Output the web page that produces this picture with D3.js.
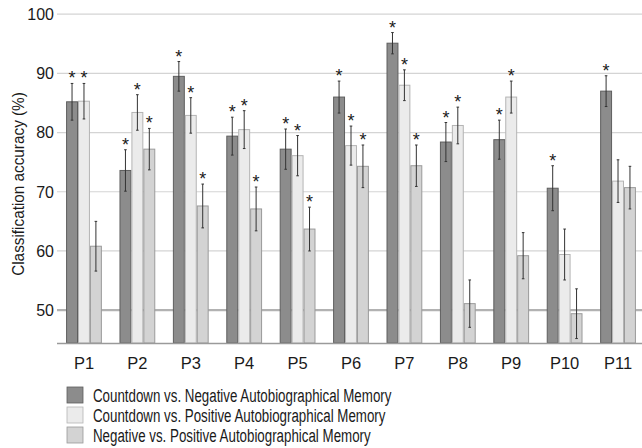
<!DOCTYPE html>
<html>
<head>
<meta charset="utf-8">
<script src="https://cdnjs.cloudflare.com/ajax/libs/d3/7.8.5/d3.min.js"></script>
<style>
  body{margin:0;background:#fff;}
  text{font-family:"Liberation Sans",Arial,sans-serif;fill:#1a1a1a;}
</style>
</head>
<body>
<div id="content"></div>
<script>
(function(){

      //////////////////////////////////////////////////////////////
      //////////////////////// data /////////////////////
      //////////////////////////////////////////////////////////////
      var participants=["P1","P2","P3","P4","P5","P6","P7","P8","P9","P10","P11"];

      var seriesNames=[
        "Countdown vs. Negative Autobiographical Memory",
        "Countdown vs. Positive Autobiographical Memory",
        "Negative vs. Positive Autobiographical Memory"
      ];

      var countNeg=[85.2,73.6,89.5,79.4,77.2,86.0,95.1,78.4,78.8,70.6,87.0];
      var countPos=[85.3,83.4,82.9,80.5,76.1,77.8,88.0,81.2,86.0,59.4,71.8];
      var negPos=[60.8,77.2,67.6,67.1,63.7,74.3,74.4,51.1,59.2,49.4,70.7];

      var errCountNeg=[3.1,3.5,2.5,3.2,3.4,2.7,1.8,3.3,3.3,3.8,2.6];
      var errCountPos=[3.0,3.0,3.0,3.2,3.4,3.3,2.6,3.1,2.7,4.3,3.6];
      var errNegPos=[4.2,3.5,3.7,3.7,3.7,3.6,3.5,4.0,3.9,4.2,3.6];

      // 1 = significant (star above the bar)
      var sigCountNeg=[1,1,1,1,1,1,1,1,1,1,1];
      var sigCountPos=[1,1,1,1,1,1,1,1,1,0,0];
      var sigNegPos=[0,1,1,1,1,1,1,0,0,0,0];

      var yTicks=[50,60,70,80,90,100];

      var fills=["#8c8c8c","#ebebeb","#d3d3d3"],
          strokes=["#5e5e5e","#b4b4b4","#9a9a9a"];

      var series=[
        {name:seriesNames[0],values:countNeg,errs:errCountNeg,sig:sigCountNeg},
        {name:seriesNames[1],values:countPos,errs:errCountPos,sig:sigCountPos},
        {name:seriesNames[2],values:negPos,errs:errNegPos,sig:sigNegPos}
      ];

      var bars=[];
      participants.forEach(function(p,i){
        series.forEach(function(s,j){
          bars.push({p:p,k:j,v:s.values[i],e:s.errs[i],sig:s.sig[i]});
        });
      });

      // squeeze text horizontally (the original uses a narrow face)
      function condense(sel,k){
        sel.each(function(){
          var w=this.getComputedTextLength();
          d3.select(this)
            .attr("textLength",w*k)
            .attr("lengthAdjust","spacingAndGlyphs");
        });
      }

      //////////////////////////////////////////////////////////////
      //////////////////////// chart /////////////////////
      //////////////////////////////////////////////////////////////
      var width=642,
          height=448;

      var svg=d3.select("#content")
          .append("svg")
          .attr("width",width)
          .attr("height",height);

      var x=d3.scaleBand()
          .domain(participants)
          .range([57,645])
          .paddingInner(0.33)
          .paddingOuter(0.17);

      var xs=d3.scaleBand()
          .domain([0,1,2])
          .range([0,x.bandwidth()]);

      var y=d3.scaleLinear()
          .domain([44.45,100])
          .range([343,14.2]);

      // gridlines
      svg.append("g")
          .selectAll("line")
          .data(yTicks)
        .enter().append("line")
          .attr("x1",57)
          .attr("x2",width)
          .attr("y1",function(d){ return y(d); })
          .attr("y2",function(d){ return y(d); })
          .style("stroke",function(d){ return d==50 ? "#b2b2b2" : "#d4d4d4"; })
          .style("stroke-width",function(d){ return d==50 ? 2.2 : 1.2; });

      // y tick labels
      svg.append("g")
          .selectAll("text")
          .data(yTicks)
        .enter().append("text")
          .attr("x",54)
          .attr("y",function(d){ return y(d)+5.8; })
          .attr("text-anchor","end")
          .style("font-size","16px")
          .text(function(d){ return d; });

      var ylab=svg.append("text")
          .attr("transform","translate(24,184) rotate(-90)")
          .attr("text-anchor","middle")
          .style("font-size","17px")
          .text("Classification accuracy (%)");
      condense(ylab,0.9);

      // bars
      var g=svg.append("g");

      g.selectAll("rect")
          .data(bars)
        .enter().append("rect")
          .attr("x",function(d){ return x(d.p)+xs(d.k)+0.5; })
          .attr("width",xs.bandwidth()-1)
          .attr("y",function(d){ return y(d.v); })
          .attr("height",function(d){ return y.range()[0]-y(d.v); })
          .style("fill",function(d){ return fills[d.k]; })
          .style("stroke",function(d){ return strokes[d.k]; })
          .style("stroke-width",1);

      // error bars
      var eb=g.selectAll(".err")
          .data(bars)
        .enter().append("g")
          .attr("class","err")
          .attr("transform",function(d){ return "translate("+(x(d.p)+xs(d.k)+xs.bandwidth()/2)+",0)"; })
          .style("stroke","#333")
          .style("stroke-width",1);

      eb.append("line")
          .attr("y1",function(d){ return y(d.v+d.e); })
          .attr("y2",function(d){ return y(d.v-d.e); });
      eb.append("line")
          .attr("x1",-1.3).attr("x2",1.3)
          .attr("y1",function(d){ return y(d.v+d.e); })
          .attr("y2",function(d){ return y(d.v+d.e); });
      eb.append("line")
          .attr("x1",-1.3).attr("x2",1.3)
          .attr("y1",function(d){ return y(d.v-d.e); })
          .attr("y2",function(d){ return y(d.v-d.e); });

      // significance stars
      g.selectAll(".star")
          .data(bars.filter(function(d){ return d.sig; }))
        .enter().append("text")
          .attr("class","star")
          .attr("x",function(d){ return x(d.p)+xs(d.k)+xs.bandwidth()/2; })
          .attr("y",function(d){ return y(d.v+d.e)+1; })
          .attr("text-anchor","middle")
          .style("font-size","18px")
          .text("*");

      // baseline
      svg.append("line")
          .attr("x1",57)
          .attr("x2",width)
          .attr("y1",343.5)
          .attr("y2",343.5)
          .style("stroke","#9a9a9a")
          .style("stroke-width",1.5);

      // x labels
      svg.append("g")
          .selectAll("text")
          .data(participants)
        .enter().append("text")
          .attr("x",function(d){ return x(d)+x.bandwidth()/2; })
          .attr("y",368.5)
          .attr("text-anchor","middle")
          .style("font-size","16.5px")
          .text(function(d){ return d; });

      //////////////////////////////////////////////
      //////////////////// legend ///////////////////
      //////////////////////////////////////////////
      var legend=svg.append("g")
          .selectAll("g")
          .data(seriesNames)
        .enter().append("g")
          .attr("transform",function(d,i){ return "translate(67,"+(387+i*20)+")"; });

      legend.append("rect")
          .attr("width",16)
          .attr("height",16)
          .style("fill",function(d,i){ return fills[i]; })
          .style("stroke",function(d,i){ return strokes[i]; })
          .style("stroke-width",0.8);

      var ltext=legend.append("text")
          .attr("x",26)
          .attr("y",14.5)
          .style("font-size","18px")
          .text(function(d){ return d; });
      condense(ltext,0.74);

})();
</script>
</body>
</html>
